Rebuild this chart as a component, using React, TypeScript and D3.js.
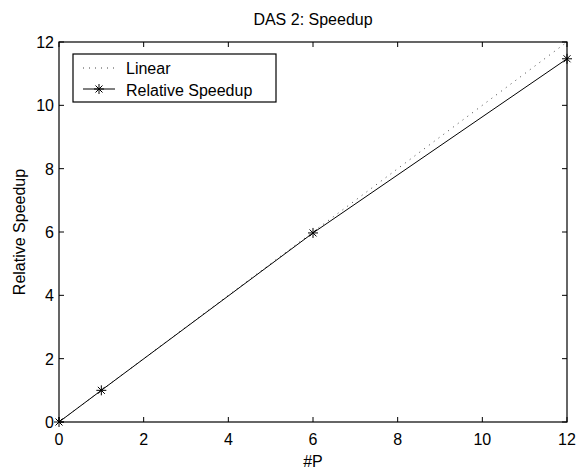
import React, { useRef, useEffect } from 'react';
import * as d3 from 'd3';

const procs = [0, 1, 6, 12];
const speedup = [0, 1, 5.97, 11.47];
const linearX = [0, 12];
const linearY = [0, 12];
const xTicks = [0, 2, 4, 6, 8, 10, 12];
const yTicks = [0, 2, 4, 6, 8, 10, 12];

export default function App() {
  const svgRef = useRef<SVGSVGElement>(null);

  useEffect(() => {
    if (!svgRef.current) return;
    const svg = d3.select(svgRef.current);
    svg.selectAll('*').remove();

    const width = 578;
    const height = 469;
    const margin = { top: 42, right: 11, bottom: 47, left: 59 };
    const innerWidth = width - margin.left - margin.right;
    const innerHeight = height - margin.top - margin.bottom;
    const font = 'Liberation Sans, Arial, Helvetica, sans-serif';

    svg.attr('width', width).attr('height', height);
    svg.append('rect').attr('width', width).attr('height', height).attr('fill', '#fff');

    const g = svg.append('g').attr('transform', `translate(${margin.left},${margin.top})`);

    const x = d3.scaleLinear().domain([0, 12]).range([0, innerWidth]);
    const y = d3.scaleLinear().domain([0, 12]).range([innerHeight, 0]);

    // Linear reference (dotted)
    const lin = linearX.map((v, i) => [v, linearY[i]] as [number, number]);
    g.append('path')
      .attr('d', d3.line<[number, number]>().x((d) => x(d[0])).y((d) => y(d[1]))(lin)!)
      .attr('fill', 'none')
      .attr('stroke', '#444')
      .attr('stroke-width', 1)
      .attr('stroke-dasharray', '1,5');

    // Relative speedup (solid + asterisks)
    const rel = procs.map((v, i) => [v, speedup[i]] as [number, number]);
    g.append('path')
      .attr('d', d3.line<[number, number]>().x((d) => x(d[0])).y((d) => y(d[1]))(rel)!)
      .attr('fill', 'none')
      .attr('stroke', '#000')
      .attr('stroke-width', 1);

    const star = (s: number) => {
      const d = s * 0.7;
      return `M${-s},0L${s},0M0,${-s}L0,${s}M${-d},${-d}L${d},${d}M${-d},${d}L${d},${-d}`;
    };
    g.selectAll('.star')
      .data(rel)
      .enter()
      .append('path')
      .attr('class', 'star')
      .attr('transform', (d) => `translate(${x(d[0])},${y(d[1])})`)
      .attr('d', star(5))
      .attr('stroke', '#000')
      .attr('stroke-width', 1)
      .attr('fill', 'none');

    // Box
    g.append('rect')
      .attr('width', innerWidth)
      .attr('height', innerHeight)
      .attr('fill', 'none')
      .attr('stroke', '#000')
      .attr('stroke-width', 1.2);

    // Ticks (inward, all four sides)
    const tk = 5;
    xTicks.forEach((t) => {
      g.append('line').attr('x1', x(t)).attr('x2', x(t)).attr('y1', innerHeight).attr('y2', innerHeight - tk).attr('stroke', '#000');
      g.append('line').attr('x1', x(t)).attr('x2', x(t)).attr('y1', 0).attr('y2', tk).attr('stroke', '#000');
    });
    yTicks.forEach((t) => {
      g.append('line').attr('x1', 0).attr('x2', tk).attr('y1', y(t)).attr('y2', y(t)).attr('stroke', '#000');
      g.append('line').attr('x1', innerWidth).attr('x2', innerWidth - tk).attr('y1', y(t)).attr('y2', y(t)).attr('stroke', '#000');
    });

    // Tick labels
    g.selectAll('.xt')
      .data(xTicks)
      .enter()
      .append('text')
      .attr('x', (d) => x(d))
      .attr('y', innerHeight + 23)
      .attr('text-anchor', 'middle')
      .attr('font-family', font)
      .attr('font-size', 16)
      .text((d) => d);

    g.selectAll('.yt')
      .data(yTicks)
      .enter()
      .append('text')
      .attr('x', -5)
      .attr('y', (d) => y(d) + 6)
      .attr('text-anchor', 'end')
      .attr('font-family', font)
      .attr('font-size', 16)
      .text((d) => d);

    // Title and axis labels
    svg.append('text')
      .attr('x', margin.left + innerWidth / 2)
      .attr('y', 25)
      .attr('text-anchor', 'middle')
      .attr('font-family', font)
      .attr('font-size', 16)
      .text('DAS 2: Speedup');

    svg.append('text')
      .attr('x', margin.left + innerWidth / 2)
      .attr('y', 467)
      .attr('text-anchor', 'middle')
      .attr('font-family', font)
      .attr('font-size', 16)
      .text('#P');

    svg.append('text')
      .attr('transform', `translate(25,${margin.top + innerHeight / 2}) rotate(-90)`)
      .attr('text-anchor', 'middle')
      .attr('font-family', font)
      .attr('font-size', 16)
      .text('Relative Speedup');

    // Legend
    const lg = svg.append('g').attr('transform', 'translate(73,54)');
    lg.append('rect')
      .attr('width', 203)
      .attr('height', 48)
      .attr('fill', '#fff')
      .attr('stroke', '#000')
      .attr('stroke-width', 1.2);
    lg.append('line')
      .attr('x1', 10).attr('x2', 42).attr('y1', 14).attr('y2', 14)
      .attr('stroke', '#444').attr('stroke-dasharray', '1,5');
    lg.append('line')
      .attr('x1', 10).attr('x2', 42).attr('y1', 35).attr('y2', 35)
      .attr('stroke', '#000');
    lg.append('path')
      .attr('transform', 'translate(26,35)')
      .attr('d', star(5))
      .attr('stroke', '#000')
      .attr('fill', 'none');
    lg.append('text')
      .attr('x', 53).attr('y', 20)
      .attr('font-family', font).attr('font-size', 16)
      .text('Linear');
    lg.append('text')
      .attr('x', 53).attr('y', 42)
      .attr('font-family', font).attr('font-size', 16)
      .text('Relative Speedup');
  }, []);

  return (
    <div style={{ position: 'absolute', left: 0, top: 0 }}>
      <svg ref={svgRef} style={{ display: 'block' }} />
    </div>
  );
}
